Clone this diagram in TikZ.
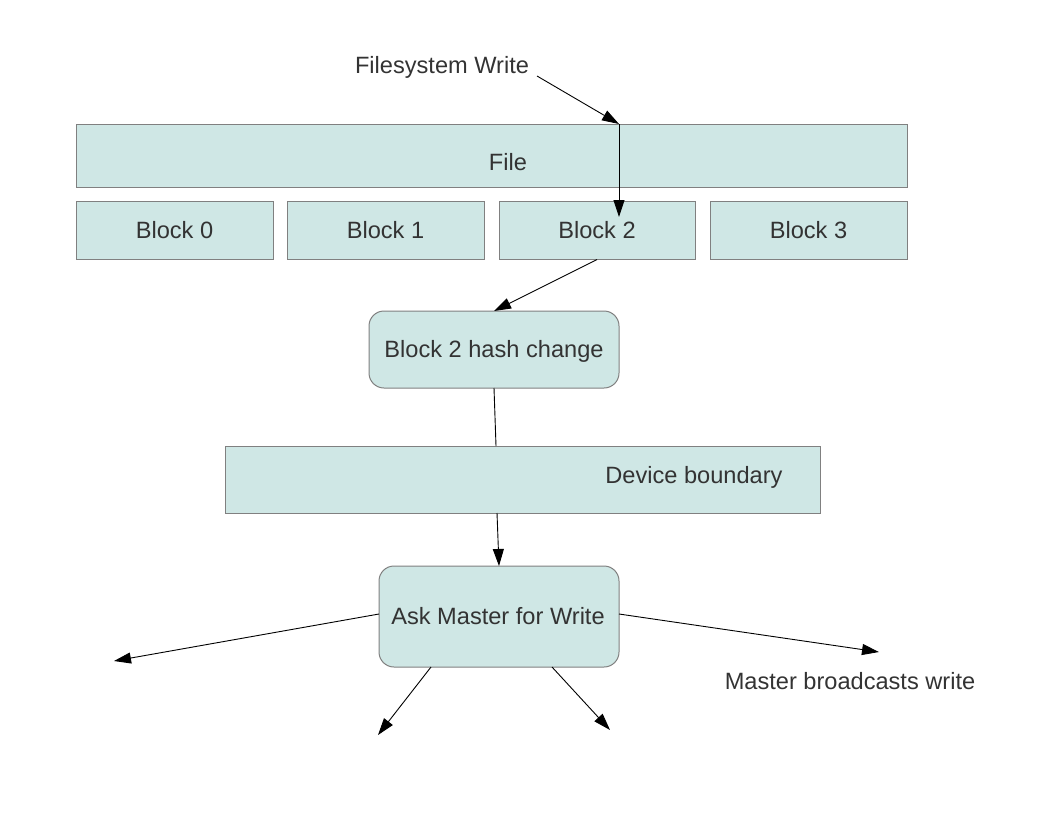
\documentclass[tikz,border=0pt]{standalone}
\usepackage{fontspec}
\setmainfont{Liberation Sans}
\usetikzlibrary{arrows.meta}
\definecolor{boxfill}{HTML}{CFE7E5}
\definecolor{boxline}{HTML}{808080}
\definecolor{txt}{HTML}{333333}
\begin{document}
\begin{tikzpicture}[x=1pt,y=-1pt,
  every node/.style={font=\fontsize{23.6pt}{26pt}\selectfont, text=txt, inner sep=0pt},
  box/.style={draw=boxline, fill=boxfill, line width=1pt},
  rbox/.style={box, rounded corners=15pt},
  conn/.style={line width=0.9pt, draw=black},
  arr/.style={conn, -{Triangle[length=17pt,width=11pt]}}]
\useasboundingbox (0,0) rectangle (1056,816);
% File
\node[box, minimum width=831pt, minimum height=63pt] (file) at (491.5,155.5) {};
\node (filetxt) at (508,162) {File};
% Blocks
\node[box, minimum width=197pt, minimum height=58pt] (b0) at (174.5,230) {Block 0};
\node[box, minimum width=197pt, minimum height=58pt] (b1) at (385.5,230) {Block 1};
\node[box, minimum width=196pt, minimum height=58pt] (b2) at (597,230) {Block 2};
\node[box, minimum width=197pt, minimum height=58pt] (b3) at (808.5,230) {Block 3};
% Hash change
\node[rbox, minimum width=250pt, minimum height=77pt] (hash) at (494,349.5) {};
\node (hashtxt) at (494,351) {Block 2 hash change};
% Device boundary
\node[box, minimum width=595pt, minimum height=67pt] (dev) at (522.5,479.5) {};
\node (devtxt) at (694,477) {Device boundary};
% Ask master
\node[rbox, minimum width=240pt, minimum height=101pt] (ask) at (499,616.5) {};
\node (asktxt) at (498,616) {Ask Master for Write};
% labels
\node (fsw) at (442,67) {Filesystem Write};
\node (mbw) at (850,681) {Master broadcasts write};
% coordinates
\coordinate (w1) at (537,76);
\coordinate (w2) at (619,124);
\coordinate (w3) at (619,217);
\coordinate (h1) at (597,259.5);
\coordinate (h2) at (494,311);
\coordinate (d1) at (494,388);
\coordinate (d2) at (496,446);
\coordinate (a1) at (497,513);
\coordinate (a2) at (499,566);
\coordinate (l1) at (379,614);
\coordinate (l2) at (114,661);
\coordinate (r1) at (619,614);
\coordinate (r2) at (879,652);
\coordinate (dl1) at (431,667);
\coordinate (dl2) at (378,735);
\coordinate (dr1) at (552,667);
\coordinate (dr2) at (610,730);
% connectors
\draw[arr] (w1) -- (w2);
\draw[arr] (w2) -- (w3);
\draw[arr] (h1) -- (h2);
\draw[conn] (d1) -- (d2);
\draw[arr] (a1) -- (a2);
\draw[arr] (l1) -- (l2);
\draw[arr] (r1) -- (r2);
\draw[arr] (dl1) -- (dl2);
\draw[arr] (dr1) -- (dr2);
\end{tikzpicture}
\end{document}
